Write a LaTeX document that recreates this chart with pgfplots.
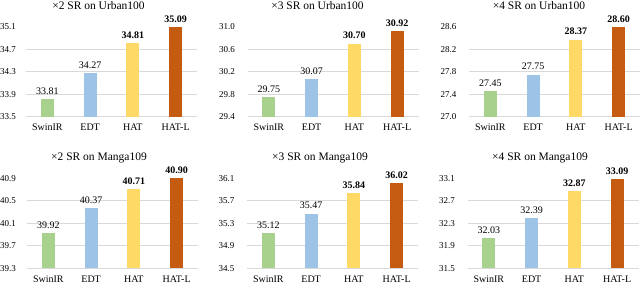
\documentclass[border=0pt]{standalone}
\usepackage{fontspec}
\setmainfont{Liberation Serif}
\usepackage{pgfplots}
\pgfplotsset{compat=1.18}
\definecolor{cg}{RGB}{169,209,142}
\definecolor{cb}{RGB}{157,195,230}
\definecolor{cy}{RGB}{255,217,102}
\definecolor{co}{RGB}{197,90,17}
\definecolor{gridc}{RGB}{217,217,217}
\pgfplotsset{
  panel/.style={
    scale only axis, width=171pt, height=90pt, anchor=south west,
    xmin=-0.5, xmax=3.5, xtick={0,1,2,3}, xticklabels={SwinIR,EDT,HAT,HAT-L},
    axis line style={draw=none}, major tick length=0pt,
    ymajorgrids, grid style={gridc, line width=0.8pt},
    extra y tick style={grid=none},
    /pgf/number format/fixed, /pgf/number format/fixed zerofill,
    /pgf/number format/precision=1, /pgf/number format/assume math mode=true,
    yticklabel style={font=\fontsize{9}{11}\selectfont},
    xticklabel style={font=\fontsize{10}{12}\selectfont, yshift=-4pt},
    clip=false,
    ybar, bar width=13pt,
    nodes near coords,
    nodes near coords style={font=\fontsize{10}{12}\selectfont, yshift=1pt,
      /pgf/number format/precision=2},
  },
  b1/.style={fill=cg, draw=none, bar shift=0pt},
  b2/.style={fill=cb, draw=none, bar shift=0pt},
  b3/.style={fill=cy, draw=none, bar shift=0pt, nodes near coords style={font=\fontsize{10}{12}\selectfont\bfseries}},
  b4/.style={fill=co, draw=none, bar shift=0pt, nodes near coords style={font=\fontsize{10}{12}\selectfont\bfseries}},
}
\begin{document}
\begin{tikzpicture}
\useasboundingbox (0pt,0pt) rectangle (640pt,284pt);
% Top row
\begin{axis}[panel, at={(26pt,167.3pt)}, ymin=33.5, ymax=35.1,
  ytick={33.5,33.9,34.3,34.7}, extra y ticks={35.1},
  yticklabel style={xshift=-6.5pt}]
\addplot[b1] coordinates {(0,33.81)};
\addplot[b2] coordinates {(1,34.27)};
\addplot[b3] coordinates {(2,34.81)};
\addplot[b4] coordinates {(3,35.09)};
\end{axis}
\begin{axis}[panel, at={(247.5pt,167.3pt)}, ymin=29.4, ymax=31.0,
  ytick={29.4,29.8,30.2,30.6}, extra y ticks={31.0},
  yticklabel style={xshift=-9pt}]
\addplot[b1] coordinates {(0,29.75)};
\addplot[b2] coordinates {(1,30.07)};
\addplot[b3] coordinates {(2,30.70)};
\addplot[b4] coordinates {(3,30.92)};
\end{axis}
\begin{axis}[panel, at={(469pt,167.3pt)}, ymin=27.0, ymax=28.6,
  ytick={27.0,27.4,27.8,28.2}, extra y ticks={28.6},
  yticklabel style={xshift=-9pt}]
\addplot[b1] coordinates {(0,27.45)};
\addplot[b2] coordinates {(1,27.75)};
\addplot[b3] coordinates {(2,28.37)};
\addplot[b4] coordinates {(3,28.60)};
\end{axis}
% Bottom row
\begin{axis}[panel, at={(27pt,15.8pt)}, ymin=39.3, ymax=40.9,
  ytick={39.3,39.7,40.1,40.5}, extra y ticks={40.9},
  yticklabel style={xshift=-7.5pt}]
\addplot[b1] coordinates {(0,39.92)};
\addplot[b2] coordinates {(1,40.37)};
\addplot[b3] coordinates {(2,40.71)};
\addplot[b4] coordinates {(3,40.90)};
\end{axis}
\begin{axis}[panel, at={(247pt,15.8pt)}, ymin=34.5, ymax=36.1,
  ytick={34.5,34.9,35.3,35.7}, extra y ticks={36.1},
  yticklabel style={xshift=-9pt}]
\addplot[b1] coordinates {(0,35.12)};
\addplot[b2] coordinates {(1,35.47)};
\addplot[b3] coordinates {(2,35.84)};
\addplot[b4] coordinates {(3,36.02)};
\end{axis}
\begin{axis}[panel, at={(467.5pt,15.8pt)}, ymin=31.5, ymax=33.1,
  ytick={31.5,31.9,32.3,32.7}, extra y ticks={33.1},
  yticklabel style={xshift=-9pt}]
\addplot[b1] coordinates {(0,32.03)};
\addplot[b2] coordinates {(1,32.39)};
\addplot[b3] coordinates {(2,32.87)};
\addplot[b4] coordinates {(3,33.09)};
\end{axis}
% Titles
\begin{scope}[every node/.style={font=\fontsize{11.5}{13}\selectfont, anchor=base, inner sep=0pt}]
\node at (98.5pt,274.5pt) {×2 SR on Urban100};
\node at (317.5pt,274.5pt) {×3 SR on Urban100};
\node at (539pt,274.5pt) {×4 SR on Urban100};
\node at (99pt,123.5pt) {×2 SR on Manga109};
\node at (320pt,123.5pt) {×3 SR on Manga109};
\node at (540pt,123.5pt) {×4 SR on Manga109};
\end{scope}
\end{tikzpicture}
\end{document}
